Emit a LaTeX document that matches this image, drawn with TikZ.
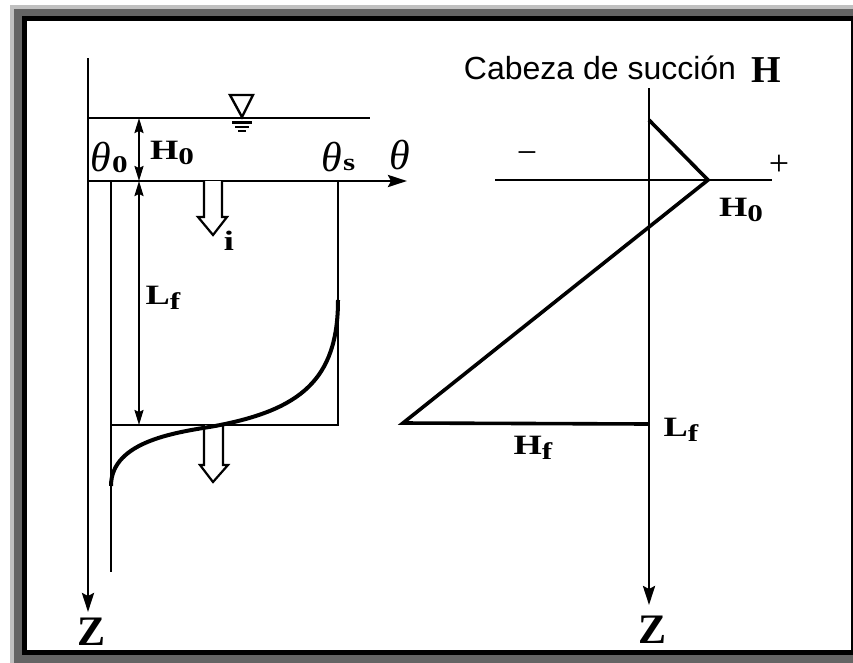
\documentclass[tikz,border=0pt]{standalone}
\usepackage{fontspec}
\setmainfont{Liberation Serif}
\newfontfamily\headfont{Liberation Sans}
\newfontfamily\labelfont[FakeStretch=1.3]{Liberation Serif}
\usetikzlibrary{arrows.meta}

\definecolor{framelight}{RGB}{192,192,192}
\definecolor{framedark}{RGB}{100,100,100}

% bold subscript, nearly full size
\newcommand{\lsub}[1]{\raisebox{-0.2em}{\fontsize{24}{24}\selectfont\labelfont\bfseries #1}}

\tikzset{
  axis/.style={line width=2.8pt, -{Stealth[length=19pt,width=12pt,inset=3pt]}},
  dimline/.style={line width=2pt, {Stealth[length=15pt,width=9pt,inset=2pt]}-{Stealth[length=15pt,width=9pt,inset=2pt]}},
  rule/.style={line width=2.4pt},
  heavy/.style={line width=3.6pt, line join=miter},
  hollow/.style={line width=2.2pt, fill=white, line join=miter},
  lbl/.style={font=\fontsize{28}{30}\selectfont\labelfont\bfseries, inner sep=0pt},
  biglbl/.style={font=\fontsize{42}{44}\selectfont\bfseries, inner sep=0pt},
  greek/.style={font=\fontsize{42}{44}\selectfont\itshape, inner sep=0pt},
}

\begin{document}
\begin{tikzpicture}[x=1pt, y=-1pt, >=Stealth]
\useasboundingbox (0,0) rectangle (853,662);

% frame round the figure
\begin{scope}
\clip (0,0) rectangle (853,662);
\fill[framelight] (10,5) rectangle (870,680);
\fill[framedark] (14,9) rectangle (870,680);
\fill[black] (22,16) rectangle (870,655);
\fill[white] (27,21) rectangle (851,650);
\end{scope}

% ---- left: water content profile ----
\coordinate (ztop) at (88,58);
\coordinate (zend) at (88,612);
\coordinate (wl) at (88,118);
\coordinate (wr) at (370,118);
\coordinate (thend) at (407,181);
\coordinate (t0) at (111,181);
\coordinate (t0b) at (111,572);
\coordinate (ts) at (338,181);
\coordinate (tsb) at (338,425);
\coordinate (fl) at (111,425);
\coordinate (dtop) at (139,118);
\coordinate (dmid) at (139,181);
\coordinate (dbot) at (139,425);

\draw[axis] (ztop) -- (zend);
\draw[rule] (wl) -- (wr);
\draw[axis] (88,181) -- (thend);
\draw[rule] (t0) -- (t0b);
\draw[rule] (ts) -- (tsb) -- (fl);
\draw[dimline] (dtop) -- (dmid);
\draw[dimline] (dmid) -- (dbot);

% water table mark
\draw[rule, line join=miter] (230,95) -- (253,95) -- (242,117) -- cycle;
\draw[line width=3pt] (232,122) -- (252,122);
\draw[line width=2.4pt] (235,127) -- (249,127);
\draw[line width=2pt] (238,131) -- (246,131);

% infiltration arrows
\draw[hollow] (204,181) -- (204,217) -- (198,217) -- (213,235) -- (227,217) -- (222,217) -- (222,181);
\draw[hollow] (204,425) -- (204,465) -- (200,465) -- (213,482) -- (228,465) -- (223,465) -- (223,425);

% wetting front
\draw[line width=4pt] (111,486) .. controls (111,440) and (180,432) .. (215,426)
  .. controls (300,410) and (338,380) .. (338,300);

\node[biglbl] (zl) at (92,632) {Z};
\node[greek] (th0) at (101,157) {θ};
\node[lbl, anchor=west] (th0sub) at (112,165) {\lsub{0}};
\node[lbl] (h0l) at (172,153) {H\lsub{0}};
\node[greek] (ths) at (332,157) {θ};
\node[lbl, anchor=west] (thssub) at (343,165) {\lsub{s}};
\node[greek] (th) at (400,155) {θ};
\node[lbl] (il) at (229,241) {i};
\node[lbl] (lfl) at (163,298) {L\lsub{f}};

% ---- right: suction head ----
\coordinate (htop) at (649,88);
\coordinate (hend) at (649,605);
\coordinate (hl) at (495,180);
\coordinate (hr) at (772,180);
\coordinate (pa) at (649,120);
\coordinate (pb) at (708,180);
\coordinate (pc) at (403,423);
\coordinate (pd) at (649,424);

\draw[axis] (htop) -- (hend);
\draw[rule] (hl) -- (hr);
\draw[heavy] (pa) -- (pb) -- (pc) -- (pd);

\node[inner sep=0pt, font=\fontsize{32}{34}\selectfont\headfont] (title) at (600,68) {Cabeza de succión};
\node[biglbl, font=\fontsize{38}{40}\selectfont\bfseries] (hh) at (766,70) {H};
\node[inner sep=0pt, font=\fontsize{36}{38}\selectfont] (minus) at (527,158) {−};
\node[inner sep=0pt, font=\fontsize{36}{38}\selectfont] (plus) at (779,165) {+};
\node[lbl] (h0r) at (741,210) {H\lsub{0}};
\node[lbl] (lfr) at (681,430) {L\lsub{f}};
\node[lbl] (hfr) at (533,448) {H\lsub{f}};
\node[biglbl] (zr) at (652,630) {Z};
\end{tikzpicture}
\end{document}
